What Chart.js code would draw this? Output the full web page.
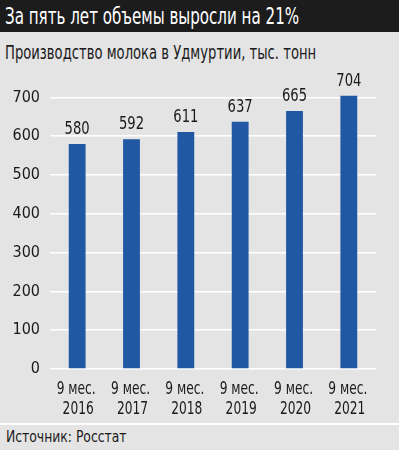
<!DOCTYPE html>
<html>
<head>
<meta charset="utf-8">
<script src="https://cdn.jsdelivr.net/npm/chart.js@4"></script>
<style>
  html, body { margin: 0; padding: 0; }
  body {
    width: 399px; height: 450px; overflow: hidden; position: relative;
    background: #e4e4e4; color: #1a1a1a;
    font-family: "Liberation Sans Narrow", "DejaVu Sans Condensed", "Roboto", sans-serif;
  }
  #title {
    position: absolute; left: 0; top: 0; width: 399px; height: 32px;
    background: #1c1c1c;
  }
  #title span {
    position: absolute; left: 5px; top: 0; color: #fff; font-size: 23px; line-height: 32px;
    white-space: nowrap; transform: scaleX(0.73); transform-origin: left center;
  }
  .txt { position: absolute; white-space: nowrap; transform-origin: left center; }
  #subtitle { left: 5px; top: 39px; font-size: 19px; line-height: 26px; transform: scaleX(0.77); }
  #chartBox { position: absolute; left: 0; top: 70px; width: 399px; height: 350px; }
  #sep { position: absolute; left: 0; top: 423px; width: 399px; height: 2px; background: #fff; }
  #source { left: 6px; top: 427px; font-size: 16px; line-height: 20px; transform: scaleX(0.86); }
</style>
</head>
<body>
<div id="title"><span>За пять лет объемы выросли на 21%</span></div>
<div id="subtitle" class="txt">Производство молока в Удмуртии, тыс. тонн</div>
<div id="chartBox"><canvas id="milkChart" width="399" height="350"></canvas></div>
<div id="sep"></div>
<div id="source" class="txt">Источник: Росстат</div>

<script>
// данные
const periods = [
    ['9 мес.', '2016'],
    ['9 мес.', '2017'],
    ['9 мес.', '2018'],
    ['9 мес.', '2019'],
    ['9 мес.', '2020'],
    ['9 мес.', '2021']
];
const milkValues = [580, 592, 611, 637, 665, 704];
const yTicks = [0, 100, 200, 300, 400, 500, 600, 700];

const FONT = '"Liberation Sans Narrow", "DejaVu Sans Condensed", "Roboto", sans-serif';
const TEXT = '#1a1a1a';

// узкий текст на канвасе (сжатие по горизонтали)
function narrowText(ctx, str, x, y, sx) {
    ctx.save();
    ctx.translate(x, y);
    ctx.scale(sx, 1);
    ctx.fillText(str, 0, 0);
    ctx.restore();
}

// подписи значений над столбцами + подписи периодов под осью
const customLabels = {
    id: 'customLabels',
    afterDatasetsDraw(chart) {
        const { ctx, chartArea } = chart;
        const meta = chart.getDatasetMeta(0);
        const xScale = chart.scales.x;
        ctx.save();
        ctx.fillStyle = TEXT;
        ctx.textAlign = 'center';
        ctx.textBaseline = 'alphabetic';
        ctx.font = '17px ' + FONT;
        meta.data.forEach((bar, i) => {
            narrowText(ctx, String(milkValues[i]), bar.x, bar.y - 10, 0.86);
        });
        ctx.textBaseline = 'middle';
        periods.forEach((lines, i) => {
            const x = xScale.getPixelForValue(i);
            lines.forEach((s, j) => {
                narrowText(ctx, s, x + (j ? 1 : -1), chartArea.bottom + 21 + j * 20, 0.8);
            });
        });
        ctx.restore();
    }
};

new Chart(document.getElementById('milkChart'), {
    type: 'bar',
    data: {
        labels: periods,
        datasets: [{
            data: milkValues,
            backgroundColor: '#2158a4',
            barPercentage: 0.31,
            categoryPercentage: 1
        }]
    },
    options: {
        responsive: false,
        animation: false,
        layout: { padding: { top: 14, right: 23, left: 0, bottom: 0 } },
        plugins: { legend: { display: false }, tooltip: { enabled: false } },
        scales: {
            x: {
                grid: { display: false },
                border: { display: false },
                ticks: { display: false },
                afterFit: axis => { axis.height = 51; }
            },
            y: {
                min: 0, max: 720,
                border: { display: false },
                grid: { color: '#ffffff', lineWidth: 1.5, drawTicks: false },
                ticks: {
                    color: TEXT, font: { family: FONT, size: 16 },
                    padding: 10, stepSize: 100
                },
                afterBuildTicks: axis => { axis.ticks = yTicks.map(v => ({ value: v })); },
                afterFit: axis => { axis.width = 50; }
            }
        }
    },
    plugins: [customLabels]
});
</script>
</body>
</html>
